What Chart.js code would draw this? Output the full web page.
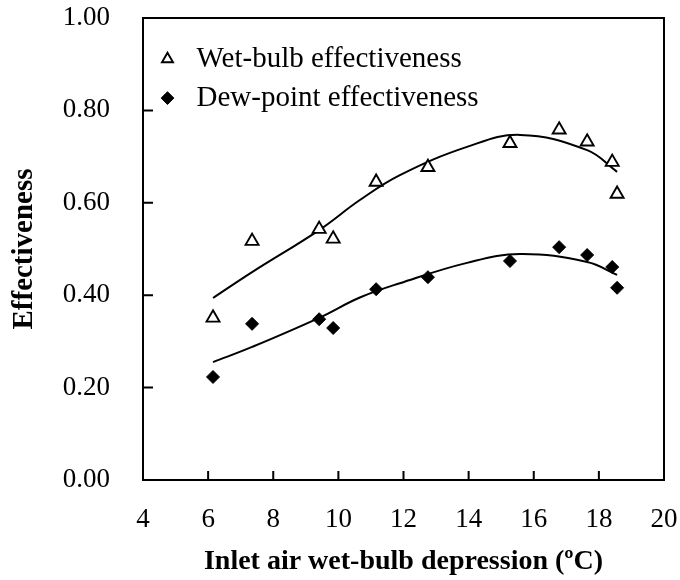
<!DOCTYPE html>
<html>
<head>
<meta charset="utf-8">
<style>
  html, body { margin: 0; padding: 0; background: #fff; }
  #wrap { width: 680px; height: 580px; position: relative; }
</style>
<script src="https://cdn.jsdelivr.net/npm/chart.js@4.4.0/dist/chart.umd.min.js"></script>
</head>
<body>
<div id="wrap"><canvas id="chart"></canvas></div>
<script>
(function () {
  'use strict';

  // measured points
  var depression = [6.15, 7.35, 9.41, 9.84, 11.16, 12.75, 15.27, 16.78, 17.64, 18.41, 18.56];
  var wetBulbEff = [0.351, 0.517, 0.543, 0.522, 0.645, 0.677, 0.729, 0.758, 0.732, 0.688, 0.619];
  var dewPointEff = [0.223, 0.338, 0.348, 0.329, 0.413, 0.439, 0.474, 0.504, 0.487, 0.461, 0.416];

  // trend curves
  var trendX = [6.15, 7.35, 9.41, 10.66, 11.89, 13.95, 15.58, 17.64, 18.56];
  var wetTrend = [0.394, 0.450, 0.541, 0.606, 0.660, 0.721, 0.747, 0.714, 0.667];
  var dewTrend = [0.255, 0.288, 0.351, 0.395, 0.426, 0.470, 0.489, 0.472, 0.444];

  var xTickLabels = ['4', '6', '8', '10', '12', '14', '16', '18', '20'];
  var yTickLabels = ['0.00', '0.20', '0.40', '0.60', '0.80', '1.00'];

  var serif = "'Liberation Serif', 'Times New Roman', serif";

  function pairs(xs, ys) {
    return xs.map(function (x, i) { return { x: x, y: ys[i] }; });
  }

  // box around plot + inward tick marks
  var frame = {
    id: 'frame',
    afterDatasetsDraw: function (chart) {
      var ctx = chart.ctx;
      var a = chart.chartArea;
      var xs = chart.scales.x;
      var ys = chart.scales.y;
      ctx.save();
      ctx.strokeStyle = '#000';
      ctx.lineWidth = 2;
      ctx.strokeRect(a.left, a.top, a.right - a.left, a.bottom - a.top);
      ctx.beginPath();
      xs.ticks.forEach(function (t) {
        var px = xs.getPixelForValue(t.value);
        ctx.moveTo(px, a.bottom);
        ctx.lineTo(px, a.bottom - 9);
      });
      ys.ticks.forEach(function (t) {
        var py = ys.getPixelForValue(t.value);
        ctx.moveTo(a.left, py);
        ctx.lineTo(a.left + 10, py);
      });
      ctx.stroke();
      ctx.restore();
    }
  };

  var el = document.getElementById('chart');
  new Chart(el, {
    type: 'scatter',
    data: {
      datasets: [
        {
          label: 'Wet-bulb effectiveness',
          data: pairs(depression, wetBulbEff),
          pointStyle: 'triangle',
          pointRadius: 7.5,
          pointBackgroundColor: '#fff',
          pointBorderColor: '#000',
          backgroundColor: '#fff',
          borderColor: '#000',
          borderWidth: 1.8,
          pointBorderWidth: 1.9,
          order: 1
        },
        {
          label: 'Dew-point effectiveness',
          data: pairs(depression, dewPointEff),
          pointStyle: 'rectRot',
          pointRadius: 6.5,
          pointBackgroundColor: '#000',
          pointBorderColor: '#000',
          backgroundColor: '#000',
          borderColor: '#000',
          borderWidth: 1,
          order: 1
        },
        {
          label: 'wet trend',
          data: pairs(trendX, wetTrend),
          showLine: true,
          pointRadius: 0,
          borderColor: '#000',
          borderWidth: 2,
          tension: 0.4,
          order: 2
        },
        {
          label: 'dew trend',
          data: pairs(trendX, dewTrend),
          showLine: true,
          pointRadius: 0,
          borderColor: '#000',
          borderWidth: 2,
          tension: 0.4,
          order: 2
        }
      ]
    },
    options: {
      responsive: true,
      maintainAspectRatio: false,
      animation: false,
      layout: { padding: { left: 0, top: 18, right: 16, bottom: 0 } },
      plugins: {
        tooltip: { enabled: false },
        legend: {
          position: 'chartArea',
          align: 'start',
          title: { display: true, text: '', font: { size: 8 }, padding: { top: 1, bottom: 24 } },
          labels: {
            usePointStyle: true,
            boxHeight: 9,
            padding: 10,
            color: '#000',
            font: { family: serif, size: 29 },
            filter: function (item) { return item.datasetIndex < 2; }
          }
        }
      },
      scales: {
        x: {
          type: 'linear',
          min: 4,
          max: 20,
          grid: { display: false },
          border: { display: false },
          afterFit: function (scale) {
            scale.height = 100;
            scale.paddingLeft = 0;
            scale.paddingRight = 0;
          },
          afterBuildTicks: function (scale) {
            scale.ticks = xTickLabels.map(function (l) { return { value: Number(l) }; });
          },
          ticks: {
            padding: 16,
            color: '#000',
            font: { family: serif, size: 27 },
            maxRotation: 0,
            callback: function (v, i) { return xTickLabels[i]; }
          },
          title: {
            display: true,
            text: 'Inlet air wet-bulb depression (ºC)',
            color: '#000',
            font: { family: serif, size: 28, weight: 'bold' },
            padding: { top: 0, bottom: 1 }
          }
        },
        y: {
          type: 'linear',
          min: 0,
          max: 1,
          grid: { display: false },
          border: { display: false },
          afterFit: function (scale) {
            scale.width = 143;
            scale.paddingTop = 0;
            scale.paddingBottom = 0;
          },
          afterBuildTicks: function (scale) {
            scale.ticks = yTickLabels.map(function (l) { return { value: Number(l) }; });
          },
          ticks: {
            padding: 25,
            color: '#000',
            font: { family: serif, size: 27 },
            callback: function (v, i) { return yTickLabels[i]; }
          },
          title: {
            display: true,
            text: 'Effectiveness',
            color: '#000',
            font: { family: serif, size: 29, weight: 'bold' },
            padding: { top: 7, bottom: 0 }
          }
        }
      }
    },
    plugins: [frame]
  });
})();
</script>
</body>
</html>
